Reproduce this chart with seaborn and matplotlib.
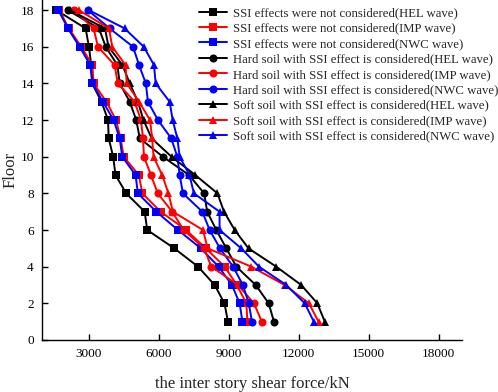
import matplotlib
matplotlib.use("Agg")
import matplotlib.pyplot as plt
import numpy as np
import pandas as pd
import seaborn as sns

floors = list(range(1, 19))

# shear force per floor (kN), floor 1 .. 18
ssi_hel = [8970, 8820, 8400, 7690, 6670, 5510, 5400, 4610, 4150, 4050, 3860, 3830, 3550, 3150, 3110, 3010, 2870, 1610]
ssi_imp = [9800, 9760, 9350, 8830, 8020, 7180, 6085, 5300, 5150, 4500, 4370, 4170, 3760, 3210, 3160, 2680, 2150, 1740]
ssi_nwc = [9590, 9470, 9140, 8570, 7810, 6830, 5900, 5110, 5010, 4440, 4330, 4070, 3610, 3160, 3070, 2610, 2110, 1700]
hard_hel = [10940, 10715, 10160, 9330, 8900, 8470, 8080, 7950, 7300, 6180, 5190, 5040, 4760, 4330, 4230, 3730, 3440, 2100]
hard_imp = [10420, 10085, 9400, 8255, 7950, 7070, 6580, 5960, 5670, 5370, 5330, 5240, 4970, 4250, 4110, 3400, 3210, 2370]
hard_nwc = [10000, 9860, 9610, 9190, 8630, 8185, 7870, 7040, 6900, 6800, 6540, 5970, 5540, 5450, 5160, 4900, 3900, 2960]
soft_hel = [13120, 12800, 12110, 11040, 9850, 9260, 8800, 8520, 7570, 6550, 5700, 5350, 5110, 4760, 4450, 3850, 3700, 2190]
soft_imp = [12850, 12440, 11400, 9970, 8100, 7900, 6610, 6420, 6150, 5780, 5720, 5630, 5160, 4630, 4580, 4010, 3870, 2580]
soft_nwc = [12650, 12260, 11470, 10300, 9540, 8610, 8610, 7510, 7320, 6900, 6800, 6600, 6470, 5870, 5800, 5360, 4540, 3000]

labels = [
    "SSI effects were not considered(HEL wave)",
    "SSI effects were not considered(IMP wave)",
    "SSI effects were not considered(NWC wave)",
    "Hard soil with SSI effect is considered(HEL wave)",
    "Hard soil with SSI effect is considered(IMP wave)",
    "Hard soil with SSI effect is considered(NWC wave)",
    "Soft soil with SSI effect is considered(HEL wave)",
    "Soft soil with SSI effect is considered(IMP wave)",
    "Soft soil with SSI effect is considered(NWC wave)",
]
series = [ssi_hel, ssi_imp, ssi_nwc, hard_hel, hard_imp, hard_nwc, soft_hel, soft_imp, soft_nwc]
colors = ["#000000", "#FF0000", "#0000FF"] * 3
markers = ["s"] * 3 + ["o"] * 3 + ["^"] * 3

xticks = [3000, 6000, 9000, 12000, 15000, 18000]
yticks = list(range(0, 19, 2))

sns.set_style("ticks")
plt.rcParams["font.family"] = ["Liberation Serif", "DejaVu Serif"]

fig = plt.figure(figsize=(4.98, 3.92), dpi=100)
ax = fig.add_axes([42 / 498, 52 / 392, 420 / 498, 340 / 392])

for vals, lab, col, mk in zip(series, labels, colors, markers):
    df = pd.DataFrame({"force": vals, "floor": floors})
    sns.lineplot(data=df, x="force", y="floor", sort=False, estimator=None,
                 color=col, marker=mk, markersize=5.8, markeredgewidth=0,
                 linewidth=1.4, label=lab, ax=ax)

ax.set_xlim(1000, 19000)
ax.set_ylim(0, 18.55)
ax.set_xticks(xticks)
ax.set_yticks(yticks)
ax.tick_params(direction="in", length=4, width=1, labelsize=9.5, colors="black", pad=6)
for s in ["top", "right"]:
    ax.spines[s].set_visible(False)
for s in ["left", "bottom"]:
    ax.spines[s].set_linewidth(1)
    ax.spines[s].set_color("black")

ax.set_xlabel("the inter story shear force/kN", fontsize=12, labelpad=11)
ax.set_ylabel("Floor", fontsize=12, labelpad=1)

ax.legend(loc="upper left", bbox_to_anchor=(199 / 498, 1 - 7 / 392),
          bbox_transform=fig.transFigure, frameon=False, fontsize=9.2,
          handlelength=2.2, handletextpad=0.45, labelspacing=0.27,
          borderpad=0, borderaxespad=0)

fig.savefig("out.png", dpi=100)
